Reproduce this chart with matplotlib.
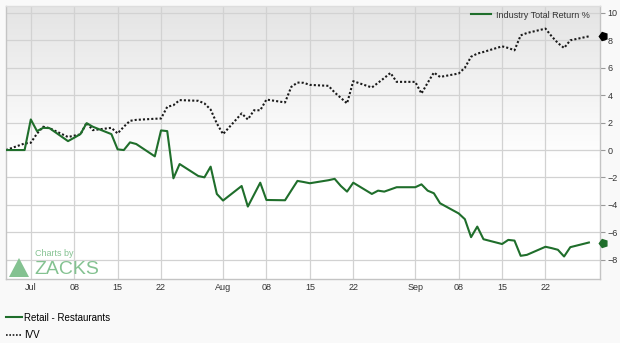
import numpy as np
import pandas as pd
import matplotlib
matplotlib.use('Agg')
from matplotlib import pyplot as plt
from matplotlib.lines import Line2D
from matplotlib.patches import Polygon
import matplotlib.transforms as mtransforms

plt.rcParams['font.family'] = ['Liberation Sans', 'DejaVu Sans']

# datos: dias habiles del 27 jun al 29 sep
fechas = pd.bdate_range('2025-06-27', '2025-09-29')

restaurantes = [0.0, 0.0,
                2.23, 1.38, 1.62, 1.6, 0.65, 0.9, 1.16, 1.96, 1.7, 1.16,
                0.05, 0.0, 0.56, 0.44, -0.46, 1.43, 1.38, -2.06, -1.02,
                -1.89, -1.99, -1.21, -3.2,
                -3.68, -2.62, -4.12, -3.25, -2.38, -3.64, -3.66, -2.95,
                -2.25, -2.33, -2.42, -2.2, -2.1, -2.62, -3.03, -2.38, -3.2,
                -2.96, -3.03, -2.87, -2.71,
                -2.71, -2.5, -2.96, -3.15, -3.88, -4.62, -5.04, -6.35,
                -5.58, -6.5, -6.85, -6.55, -6.6, -7.71, -7.64, -7.05, -7.15,
                -7.27, -7.76, -7.08, -6.74]

ivv = [0.0, 0.48,
       0.53, 1.2, 1.7, 1.6, 0.95, 1.05, 1.14, 1.99, 1.45, 1.62,
       1.21, 1.7, 2.13, 2.2, 2.28, 2.3, 3.15, 3.27, 3.64,
       3.59, 3.4, 2.95, 1.94,
       1.16, 2.67, 2.23, 2.9, 2.9, 3.68, 3.47, 4.6,
       4.92, 4.9, 4.75, 4.68, 4.2, 3.8, 3.4, 5.02, 4.56,
       4.9, 5.25, 5.62, 4.97,
       4.97, 4.12, 4.9, 5.65, 5.33, 5.58, 6.0, 6.8,
       7.03, 7.15, 7.56, 7.44, 7.27, 8.36, 8.53, 8.85, 8.29,
       7.8, 7.44, 8.0, 8.29]

tick_fechas = ['2025-07-01', '2025-07-08', '2025-07-15', '2025-07-22',
               '2025-08-01', '2025-08-08', '2025-08-15', '2025-08-22',
               '2025-09-01', '2025-09-08', '2025-09-15', '2025-09-22']
tick_labels = ['Jul', '08', '15', '22', 'Aug', '08', '15', '22',
               'Sep', '08', '15', '22']
yticks = [-8, -6, -4, -2, 0, 2, 4, 6, 8, 10]

verde = '#1f6e2b'
negro = '#1a1a1a'
gris = '#d2d2d2'

fig = plt.figure(figsize=(6.2, 3.43), dpi=100, facecolor='#f9f9f9')
ax = fig.add_axes([6 / 620, 1 - 279 / 343, 594 / 620, 273 / 343])

# fondo degradado
grad = np.linspace(0, 1, 256).reshape(-1, 1)
grad = np.clip(grad * 1.8, 0, 1)
ax.imshow(grad, extent=[0, 1, 0, 1], transform=ax.transAxes, aspect='auto',
          cmap=matplotlib.colors.LinearSegmentedColormap.from_list(
              'g', ['#e4e4e4', '#ffffff']),
          origin='upper', zorder=0)

ax.plot(fechas, ivv, color=negro, linestyle=(0, (1, 1)), linewidth=1.5,
        zorder=3)
ax.plot(fechas, restaurantes, color=verde, linewidth=1.5, zorder=4)

ax.set_xlim(pd.Timestamp('2025-06-27'), pd.Timestamp('2025-09-30 19:00'))
ax.set_ylim(-9.4, 10.5)

ax.set_xticks(pd.to_datetime(tick_fechas))
ax.set_xticklabels(tick_labels)
ax.set_yticks(yticks)
ax.yaxis.tick_right()
ax.tick_params(axis='x', length=0, labelsize=6.5, colors='#333333', pad=3)
ax.tick_params(axis='y', length=3.5, width=0.8, color='#999999',
               labelsize=6.5, labelcolor='#333333', pad=2)
ax.grid(True, color=gris, linewidth=0.9, zorder=1)
ax.set_axisbelow(True)
for s in ax.spines.values():
    s.set_color('#c4c4c4')
    s.set_linewidth(1)
ax.spines['top'].set_color('#dddddd')

# marcadores finales a la derecha
trans = mtransforms.blended_transform_factory(ax.transAxes, ax.transData)
ax.plot([1.005], [ivv[-1]], marker=(5, 0, 90), color='black',
        markersize=6, transform=trans, clip_on=False, zorder=5)
ax.plot([1.005], [restaurantes[-1]], marker=(5, 0, 90), color=verde,
        markersize=6, transform=trans, clip_on=False, zorder=5)

# leyenda interna
h = Line2D([], [], color=verde, linewidth=1.5)
leg = ax.legend([h], ['Industry Total Return %'], loc='upper right',
                frameon=False, fontsize=6.5, handlelength=2.2,
                handletextpad=0.5, borderaxespad=0.1,
                bbox_to_anchor=(0.99, 1.0))
for t in leg.get_texts():
    t.set_color('#333333')

# leyenda inferior
h1 = Line2D([], [], color=verde, linewidth=1.5)
h2 = Line2D([], [], color=negro, linestyle=(0, (1, 1)), linewidth=1.2)
fig.legend([h1, h2], ['Retail - Restaurants', 'IVV'], loc='lower left',
           bbox_to_anchor=(0.005, 0.0), frameon=False, fontsize=7,
           handlelength=1.6, handletextpad=0.3, labelspacing=0.75,
           borderaxespad=0.0, borderpad=0.3)

# marca de agua
wm = '#84c291'
fig.text(35 / 620, 1 - 254 / 343, 'Charts by', color=wm, fontsize=6.5,
         va='center', ha='left')
fig.text(34 / 620, 1 - 269 / 343, 'ZACKS', color=wm, fontsize=14,
         va='center', ha='left')
tri = Polygon([[9 / 620, 1 - 277 / 343], [29 / 620, 1 - 277 / 343],
               [19 / 620, 1 - 258 / 343]], closed=True,
              transform=fig.transFigure, facecolor=wm, edgecolor='none')
fig.patches.append(tri)

fig.savefig('out.png', dpi=100, facecolor=fig.get_facecolor())
